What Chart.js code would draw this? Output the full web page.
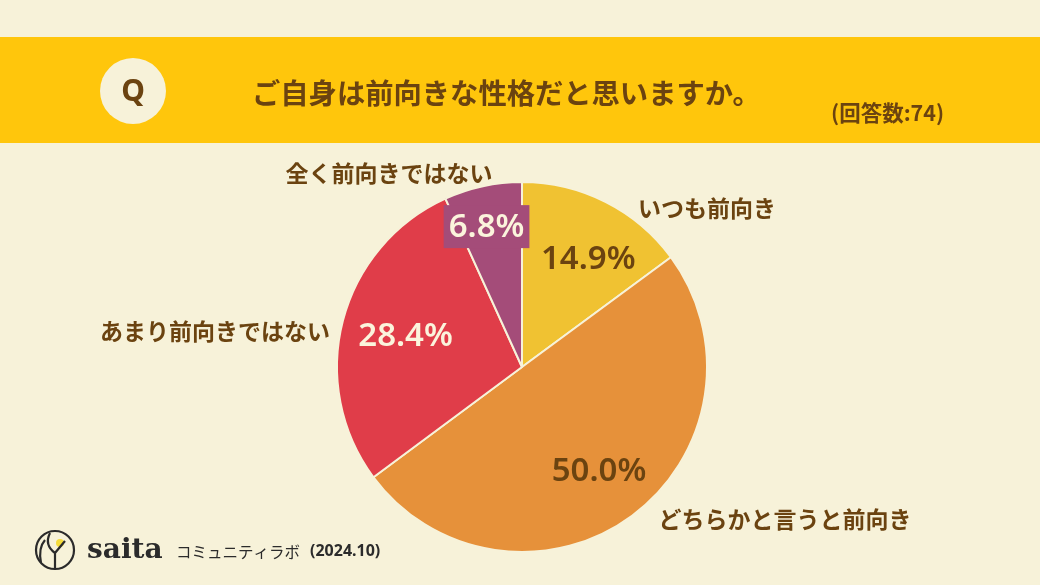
<!DOCTYPE html>
<html>
<head>
<meta charset="utf-8">
<script src="https://cdn.jsdelivr.net/npm/chart.js"></script>
<style>
  html, body { margin: 0; padding: 0; background: #f7f2d9; }
  #wrap { width: 1040px; height: 585px; position: relative; }
</style>
</head>
<body>
<div id="wrap"><canvas id="chart"></canvas></div>
<script>
const categories = ['いつも前向き', 'どちらかと言うと前向き', 'あまり前向きではない', '全く前向きではない'];
const percents = [14.9, 50.0, 28.4, 6.8];
const sliceColors = ['#f0c232', '#e6913a', '#e03d49', '#a44c79'];
const pctColors = ['#6b4310', '#6b4310', '#fbf4dc', '#fbf4dc'];
const title = 'ご自身は前向きな性格だと思いますか。';
const sampleSize = '(回答数:74)';

const BG = '#f7f2d9';
const BROWN = '#6b4310';
const FONT = '"Noto Sans CJK JP", "Noto Sans", sans-serif';

// where the % text sits along each slice (fraction of radius, angle nudge in deg)
const pctPlace = [[0.68, 5], [0.70, 0], [0.65, 0], [0.78, -2]];
// category label positions (center x, middle y)
const labelPos = [[707, 208], [785, 519], [215, 331], [389, 173]];

const chrome = {
  id: 'chrome',
  beforeDraw(chart) {
    const c = chart.ctx;
    c.save();
    c.fillStyle = BG;
    c.fillRect(0, 0, chart.width, chart.height);
    // header band
    c.fillStyle = '#ffc60c';
    c.fillRect(0, 37, chart.width, 106);
    // Q badge
    c.fillStyle = BG;
    c.beginPath();
    c.arc(133, 91, 33, 0, Math.PI * 2);
    c.fill();
    c.fillStyle = BROWN;
    c.textAlign = 'center';
    c.textBaseline = 'middle';
    c.font = 'bold 30px "Noto Sans", sans-serif';
    c.fillText('Q', 133, 92);
    c.font = 'bold 28.3px ' + FONT;
    c.textAlign = 'left';
    c.fillText(title, 252, 93);
    c.font = 'bold 21.5px ' + FONT;
    c.fillText(sampleSize, 831, 113);
    c.restore();
  },
  afterDraw(chart) {
    const c = chart.ctx;
    const arcs = chart.getDatasetMeta(0).data;
    c.save();
    c.textBaseline = 'middle';
    c.textAlign = 'center';
    arcs.forEach((arc, i) => {
      const p = arc.getProps(['x', 'y', 'startAngle', 'endAngle', 'outerRadius'], true);
      const mid = (p.startAngle + p.endAngle) / 2 + pctPlace[i][1] * Math.PI / 180;
      const r = p.outerRadius * pctPlace[i][0];
      const x = p.x + Math.cos(mid) * r;
      const y = p.y + Math.sin(mid) * r;
      const txt = percents[i].toFixed(1) + '%';
      c.font = '600 33px "Noto Sans", sans-serif';
      if (i === 3) {
        const w = c.measureText(txt).width + 10;
        c.fillStyle = sliceColors[3];
        c.fillRect(x - w / 2, y - 22, w, 43);
      }
      c.fillStyle = pctColors[i];
      c.fillText(txt, x, y);
      c.fillStyle = BROWN;
      c.font = 'bold 23px ' + FONT;
      c.fillText(categories[i], labelPos[i][0], labelPos[i][1]);
    });

    // footer logo
    c.strokeStyle = '#2b2b2b';
    c.lineWidth = 2.2;
    c.beginPath();
    c.arc(55, 550, 19, 0, Math.PI * 2);
    c.stroke();
    c.fillStyle = '#f5dc3c';
    c.beginPath();
    c.arc(60, 543, 4, 0, Math.PI * 2);
    c.fill();
    c.beginPath();
    c.moveTo(55, 569);
    c.lineTo(55, 553);
    c.lineTo(65, 541);
    c.moveTo(55, 553);
    c.quadraticCurveTo(44, 545, 50, 533);
    c.moveTo(41, 563);
    c.quadraticCurveTo(38, 548, 45, 540);
    c.stroke();
    c.fillStyle = '#2b2b2b';
    c.textAlign = 'left';
    c.font = '600 28px "DejaVu Serif", serif';
    c.fillText('saita', 87, 551);
    c.font = '15.5px ' + FONT;
    c.fillText('コミュニティラボ', 176, 552);
    c.font = 'bold 16px "Noto Sans", sans-serif';
    c.fillText('(2024.10)', 310, 551);
    c.restore();
  }
};

new Chart(document.getElementById('chart'), {
  type: 'pie',
  data: {
    labels: categories,
    datasets: [{
      data: percents,
      backgroundColor: sliceColors,
      borderColor: BG,
      borderWidth: 2
    }]
  },
  options: {
    responsive: true,
    maintainAspectRatio: false,
    animation: false,
    layout: { padding: { left: 336, right: 332, top: 181, bottom: 32 } },
    plugins: {
      legend: { display: false },
      tooltip: { enabled: false }
    }
  },
  plugins: [chrome]
});
</script>
</body>
</html>
